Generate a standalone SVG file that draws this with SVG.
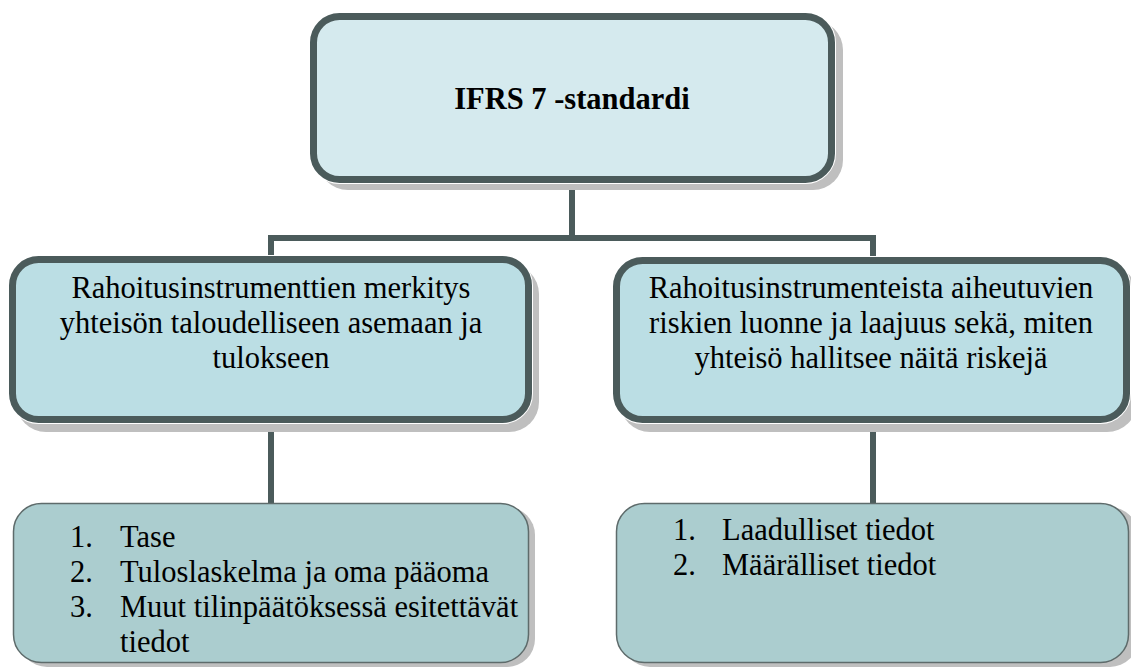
<svg xmlns="http://www.w3.org/2000/svg" width="1131" height="667" viewBox="0 0 1131 667">
  <style>
    .shadow { fill: #BFBFBF; stroke: none; }
    .halo { fill: none; stroke: #FFFFFF; stroke-width: 9; }
    .thick { stroke: #4B5B5B; stroke-width: 7; }
    .thin { stroke: #5E6B6B; stroke-width: 1.5; }
    .top { fill: #D5EAEE; }
    .mid { fill: #BBDEE4; }
    .bot { fill: #ABCDCF; }
    .conn { fill: none; stroke: #4B5B5B; stroke-width: 6; }
    text { font-family: "Liberation Serif", "Times New Roman", serif; font-size: 30.5px; fill: #000000; }
    .title { font-weight: bold; }
    .c { text-anchor: middle; }
  </style>

  <g id="connectors">
    <path class="conn" d="M572,180 V238 M271,238 H873 M271,235 V260 M873,235 V260"/>
    <path class="conn" d="M271,420 V505"/>
    <path class="conn" d="M873,420 V505"/>
  </g>

  <g id="node-ifrs7">
    <rect class="shadow" x="318" y="20" width="525" height="170" rx="30"/>
    <rect class="halo" x="313.5" y="16.5" width="518" height="163" rx="26"/>
    <rect class="top thick" x="313.5" y="16.5" width="518" height="163" rx="26"/>
    <text class="title c" x="572" y="109">IFRS 7 -standardi</text>
  </g>

  <g id="node-merkitys">
    <rect class="shadow" x="16" y="264" width="523" height="168" rx="30"/>
    <rect class="halo" x="12.5" y="259.5" width="516" height="160" rx="26"/>
    <rect class="mid thick" x="12.5" y="259.5" width="516" height="160" rx="26"/>
    <text class="c" x="271" y="298">Rahoitusinstrumenttien merkitys</text>
    <text class="c" x="271" y="333">yhteisön taloudelliseen asemaan ja</text>
    <text class="c" x="271" y="368">tulokseen</text>
  </g>

  <g id="node-riskit">
    <rect class="shadow" x="620" y="265" width="517" height="167" rx="30"/>
    <rect class="halo" x="616.5" y="260.5" width="510" height="159" rx="26"/>
    <rect class="mid thick" x="616.5" y="260.5" width="510" height="159" rx="26"/>
    <text class="c" x="871" y="298">Rahoitusinstrumenteista aiheutuvien</text>
    <text class="c" x="871" y="333">riskien luonne ja laajuus sekä, miten</text>
    <text class="c" x="871" y="368">yhteisö hallitsee näitä riskejä</text>
  </g>

  <g id="node-lista1">
    <rect class="shadow" x="19" y="507" width="516" height="160" rx="28"/>
    <rect class="bot thin" x="13.5" y="503.5" width="515" height="159" rx="28"/>
    <text x="70" y="547">1.</text><text x="120" y="547">Tase</text>
    <text x="70" y="582">2.</text><text x="120" y="582">Tuloslaskelma ja oma pääoma</text>
    <text x="70" y="617">3.</text><text x="120" y="617">Muut tilinpäätöksessä esitettävät</text>
    <text x="120" y="652">tiedot</text>
  </g>

  <g id="node-lista2">
    <rect class="shadow" x="622" y="507" width="516" height="160" rx="28"/>
    <rect class="bot thin" x="616.5" y="503.5" width="512" height="159" rx="28"/>
    <text x="673" y="540">1.</text><text x="722" y="540">Laadulliset tiedot</text>
    <text x="673" y="575">2.</text><text x="722" y="575">Määrälliset tiedot</text>
  </g>
</svg>
